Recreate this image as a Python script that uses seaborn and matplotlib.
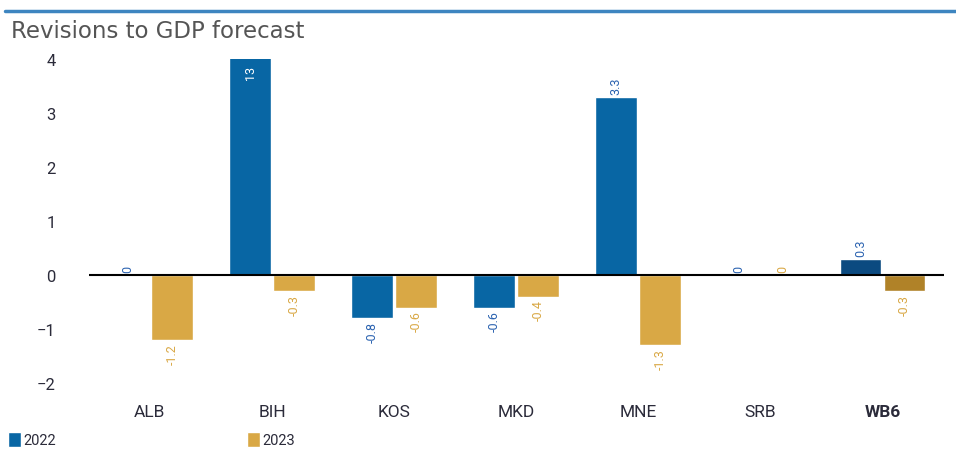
import pandas as pd
import matplotlib.pyplot as plt
import seaborn as sns
from matplotlib.lines import Line2D

countries = ["ALB", "BIH", "KOS", "MKD", "MNE", "SRB", "WB6"]
rev_2022 = [0, 13, -0.8, -0.6, 3.3, 0, 0.3]
rev_2023 = [-1.2, -0.3, -0.6, -0.4, -1.3, 0, -0.3]
years = ["2022", "2023"]

df = pd.DataFrame({"country": countries * 2,
                   "year": [years[0]] * len(countries) + [years[1]] * len(countries),
                   "value": rev_2022 + rev_2023})

blue, gold = "#0866a4", "#d9a845"
dark = {"2022": "#0b4a80", "2023": "#b08228"}
lbl_col = {"2022": "#2a62b0", "2023": "#d9a845"}

sns.set_style("white")
plt.rcParams["font.family"] = ["Roboto", "DejaVu Sans"]

fig = plt.figure(figsize=(9.56, 4.52), dpi=100)
ax = fig.add_axes([0.093, 0.150, 0.894, 0.717])

sns.barplot(data=df, x="country", y="value", hue="year", palette=[blue, gold],
            saturation=1, width=0.72, gap=0.05, ax=ax, legend=True)

ymin, ymax = -2, 4
ax.set_ylim(ymin, ymax)
ax.set_xlim(-0.5, len(countries) - 0.5)

for cont, yr in zip(ax.containers, years):
    cont.patches[-1].set_facecolor(dark[yr])
    vals = cont.datavalues
    labels = [f"{v:g}" if v <= ymax else "" for v in vals]
    ax.bar_label(cont, labels=labels, rotation=90, padding=2, fontsize=9,
                 color=lbl_col[yr])
    for p, v in zip(cont.patches, vals):
        if v > ymax:
            ax.text(p.get_x() + p.get_width() / 2, ymax - 0.1, f"{v:g}",
                    rotation=90, ha="center", va="top", fontsize=9, color="white")

ax.axhline(0, color="black", lw=1.5, zorder=3)

sns.despine(ax=ax, left=True, bottom=True, top=True, right=True)
ax.set_xlabel("")
ax.set_ylabel("")
ax.set_yticks(range(ymin, ymax + 1))
ax.set_yticklabels([str(t).replace("-", "\u2212") for t in range(ymin, ymax + 1)])
ax.tick_params(axis="y", length=0, pad=24, labelsize=12, labelcolor="#2b2b3a")
ax.tick_params(axis="x", length=0, pad=15, labelsize=12.5, labelcolor="#2b2b3a")
ax.get_xticklabels()[-1].set_fontweight("bold")

handles, labs = ax.get_legend_handles_labels()
ax.legend_.remove()
fig.legend(handles, labs, loc="lower left", bbox_to_anchor=(0.008, 0.008), ncol=2,
           frameon=False, fontsize=10.5, handlelength=0.9, handleheight=1.2,
           handletextpad=0.15, columnspacing=13.1, borderpad=0, borderaxespad=0,
           labelcolor="#2b2b3a")

fig.add_artist(Line2D([0.005, 1.0], [0.973, 0.973], color="#3d85c0", lw=2.5))
fig.text(0.011, 1 - 31 / 452, "Revisions to GDP forecast", fontsize=16.5,
         color="#555555", va="center", family="DejaVu Sans")

fig.savefig("out.png", dpi=100)
